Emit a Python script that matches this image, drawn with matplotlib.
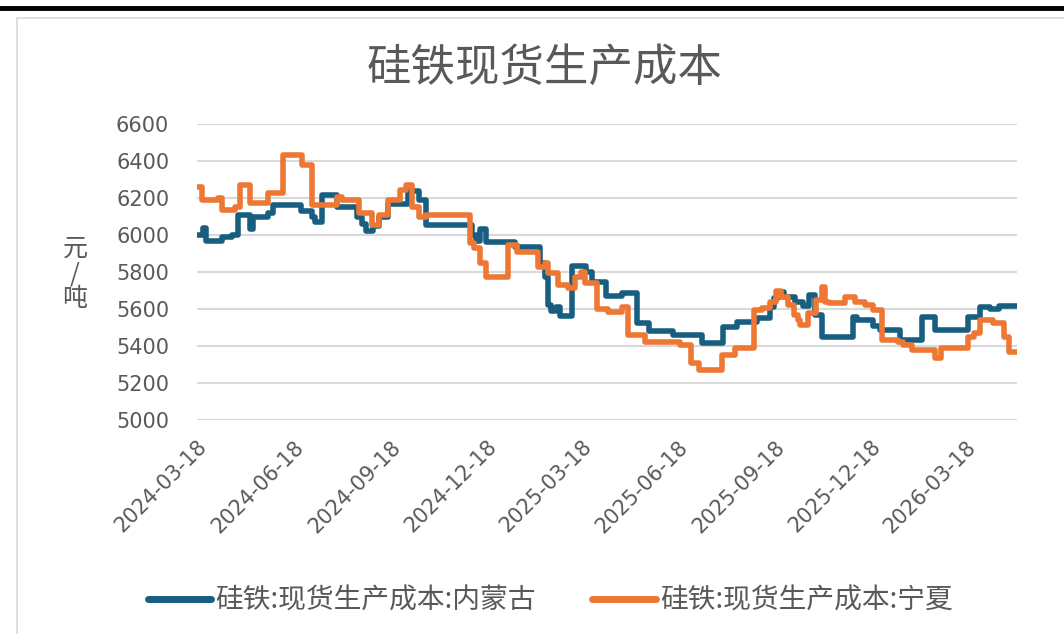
import matplotlib
matplotlib.use("Agg")
import matplotlib.pyplot as plt
import numpy as np
import pandas as pd
from matplotlib.patches import Rectangle

plt.rcParams['font.family'] = ['Noto Sans CJK SC', 'DejaVu Sans']

# 内蒙古: 阶梯变化点 (日期, 元/吨)
nmg_dates = ['2024-03-18', '2024-03-24', '2024-03-27', '2024-04-11', '2024-04-20', '2024-04-26',
             '2024-05-07', '2024-05-10', '2024-05-24', '2024-05-29', '2024-06-25', '2024-07-05',
             '2024-07-08', '2024-07-15', '2024-07-29', '2024-08-17', '2024-08-22', '2024-08-26',
             '2024-09-01', '2024-09-07', '2024-09-15', '2024-10-04', '2024-10-15', '2024-10-22',
             '2024-12-04', '2024-12-08', '2024-12-12', '2024-12-18', '2025-01-14', '2025-02-07',
             '2025-02-12', '2025-02-14', '2025-02-17', '2025-02-22', '2025-02-26', '2025-03-09',
             '2025-03-23', '2025-03-28', '2025-04-11', '2025-04-26', '2025-05-10', '2025-05-21',
             '2025-06-13', '2025-07-11', '2025-07-31', '2025-08-13', '2025-09-01', '2025-09-13',
             '2025-09-17', '2025-09-21', '2025-09-27', '2025-10-07', '2025-10-15', '2025-10-20',
             '2025-10-26', '2025-11-02', '2025-12-01', '2025-12-05', '2025-12-20', '2025-12-27',
             '2026-01-15', '2026-02-05', '2026-02-17', '2026-03-20', '2026-04-01', '2026-04-10',
             '2026-04-19', '2026-05-06']
nmg_values = [6000, 6040, 5970, 5990, 6000, 6110,
              6030, 6100, 6120, 6160, 6130, 6100,
              6070, 6215, 6150, 6100, 6060, 6020,
              6050, 6100, 6165, 6240, 6190, 6055,
              6000, 5965, 6035, 5960, 5935, 5850,
              5775, 5620, 5590, 5610, 5560, 5830,
              5800, 5745, 5670, 5685, 5525, 5480,
              5460, 5415, 5505, 5530, 5550, 5610,
              5660, 5690, 5665, 5640, 5615, 5675,
              5570, 5450, 5555, 5540, 5510, 5485,
              5430, 5555, 5485, 5555, 5610, 5600,
              5615, 5615]

# 宁夏
nx_dates = ['2024-03-18', '2024-03-23', '2024-04-07', '2024-04-11', '2024-04-23', '2024-04-28',
            '2024-05-07', '2024-05-24', '2024-06-08', '2024-06-26', '2024-07-05', '2024-07-29',
            '2024-08-03', '2024-08-19', '2024-08-31', '2024-09-07', '2024-09-15', '2024-09-27',
            '2024-10-03', '2024-10-08', '2024-10-15', '2024-10-22', '2024-12-02', '2024-12-06',
            '2024-12-12', '2024-12-18', '2025-01-07', '2025-01-16', '2025-02-05', '2025-02-12',
            '2025-02-14', '2025-02-24', '2025-03-05', '2025-03-12', '2025-03-18', '2025-03-22',
            '2025-04-02', '2025-04-12', '2025-04-26', '2025-05-01', '2025-05-18', '2025-06-20',
            '2025-06-30', '2025-07-08', '2025-07-30', '2025-08-11', '2025-08-29', '2025-09-06',
            '2025-09-13', '2025-09-19', '2025-09-24', '2025-09-30', '2025-10-06', '2025-10-10',
            '2025-10-12', '2025-10-19', '2025-10-27', '2025-11-02', '2025-11-05', '2025-11-08',
            '2025-11-24', '2025-12-03', '2025-12-13', '2025-12-20', '2025-12-29', '2026-01-13',
            '2026-01-18', '2026-01-26', '2026-02-17', '2026-02-23', '2026-03-20', '2026-03-26',
            '2026-04-01', '2026-04-13', '2026-04-24', '2026-04-28', '2026-05-06']
nx_values = [6260, 6190, 6200, 6135, 6150, 6270,
             6175, 6225, 6430, 6380, 6160, 6205,
             6190, 6120, 6055, 6110, 6190, 6245,
             6270, 6150, 6100, 6110, 5955, 5930,
             5850, 5775, 5945, 5910, 5825, 5850,
             5795, 5730, 5715, 5775, 5800, 5740,
             5600, 5585, 5610, 5460, 5420, 5405,
             5310, 5270, 5350, 5390, 5595, 5605,
             5640, 5700, 5665, 5620, 5570, 5540,
             5515, 5580, 5650, 5720, 5640, 5630,
             5665, 5640, 5620, 5595, 5430, 5420,
             5405, 5380, 5335, 5390, 5450, 5470,
             5540, 5525, 5450, 5370, 5370]

tick_dates = ['2024-03-18', '2024-06-18', '2024-09-18', '2024-12-18', '2025-03-18',
              '2025-06-18', '2025-09-18', '2025-12-18', '2026-03-18']
y_ticks = [5000, 5200, 5400, 5600, 5800, 6000, 6200, 6400, 6600]

title = '硅铁现货生产成本'
names = ['硅铁:现货生产成本:内蒙古', '硅铁:现货生产成本:宁夏']
colors = ['#175E80', '#ED7733']
text_color = '#595959'

fig = plt.figure(figsize=(10.64, 6.34), dpi=100)

# 顶部黑线和图表外框
fig.add_artist(plt.Line2D([0, 1], [1 - 8 / 634, 1 - 8 / 634], color='black', lw=3.5,
                          transform=fig.transFigure))
fig.add_artist(Rectangle((17 / 1064, -0.05), 1.1, 1 - 18 / 634 + 0.05, transform=fig.transFigure,
                         fill=False, edgecolor='#D9D9D9', lw=1.2))

ax = fig.add_axes([197 / 1064, 1 - 420 / 634, 820 / 1064, 296 / 634])

for d, v, c, n in [(nmg_dates, nmg_values, colors[0], names[0]),
                   (nx_dates, nx_values, colors[1], names[1])]:
    ax.plot(pd.to_datetime(d), v, drawstyle='steps-post', color=c, lw=4.0,
            solid_joinstyle='round', solid_capstyle='round', label=n)

ax.set_xlim(pd.Timestamp('2024-03-18'), pd.Timestamp('2026-05-06'))
ax.set_ylim(5000, 6600)
ax.set_yticks(y_ticks)
ax.set_yticklabels([str(v) for v in y_ticks], fontsize=15, color=text_color,
                   family='DejaVu Sans')
ax.set_xticks(pd.to_datetime(tick_dates))
ax.set_xticklabels(tick_dates, rotation=45, ha='right', rotation_mode='anchor',
                   fontsize=15, color=text_color, family='DejaVu Sans')
ax.tick_params(axis='both', length=0)
ax.tick_params(axis='y', pad=20)
ax.tick_params(axis='x', pad=12)
ax.grid(axis='y', color='#D9D9D9', lw=1.5)
ax.set_axisbelow(True)
for s in ax.spines.values():
    s.set_visible(False)

fig.text(545 / 1064, 1 - 68 / 634, title, ha='center', va='center', fontsize=32,
         color=text_color, fontweight='light')
fig.text(75 / 1064, 1 - 274 / 634, '元\n/\n吨', ha='center', va='center', fontsize=18,
         color=text_color, linespacing=0.95)

leg = fig.legend(loc='center', bbox_to_anchor=(550 / 1064, 1 - 601 / 634), ncol=2,
                 frameon=False, fontsize=20, handlelength=2.3, handletextpad=0.15,
                 columnspacing=2.0, labelcolor=text_color)
for h in leg.get_lines():
    h.set_linewidth(5)

fig.savefig('out.png', dpi=100)
